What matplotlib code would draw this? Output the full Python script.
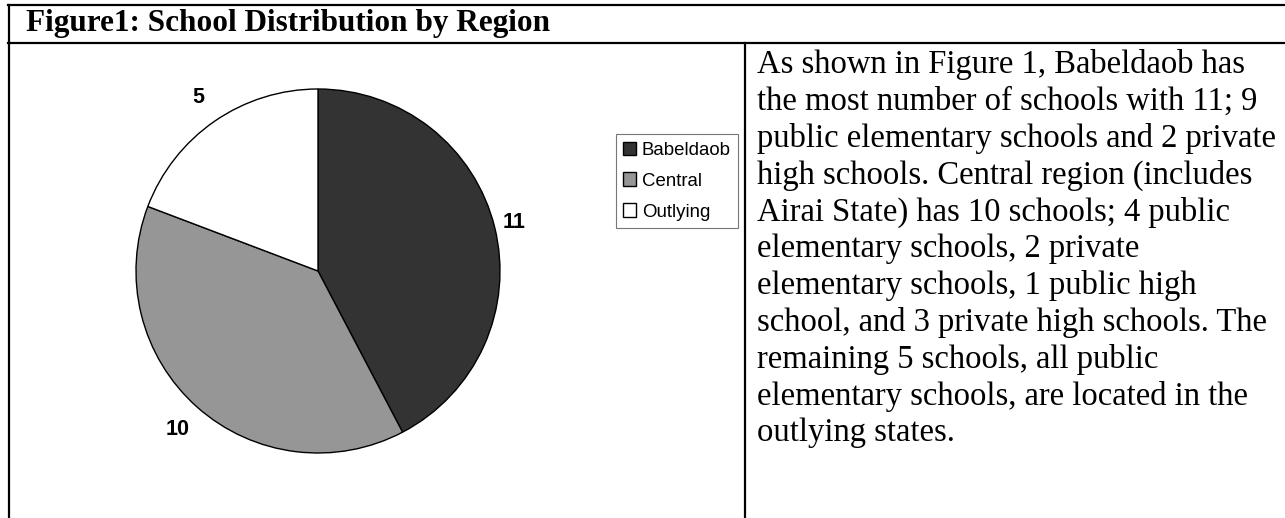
import matplotlib
matplotlib.use('Agg')
import matplotlib.pyplot as plt
from matplotlib.lines import Line2D
import numpy as np

# 数据
regions = ['Babeldaob', 'Central', 'Outlying']
schools = [11, 10, 5]
colors = ['#333333', '#969696', '#ffffff']

title = 'Figure1: School Distribution by Region'
paragraph = [
    'As shown in Figure 1, Babeldaob has',
    'the most number of schools with 11; 9',
    'public elementary schools and 2 private',
    'high schools. Central region (includes',
    'Airai State) has 10 schools; 4 public',
    'elementary schools, 2 private',
    'elementary schools, 1 public high',
    'school, and 3 private high schools. The',
    'remaining 5 schools, all public',
    'elementary schools, are located in the',
    'outlying states.',
]

W, H = 1285, 518
fig = plt.figure(figsize=(W / 100, H / 100), dpi=100)

# 饼图区域（像素 -> 图坐标）
cx, cy, r = 318, 271, 182
ax = fig.add_axes([(cx - r) / W, (H - cy - r) / H, 2 * r / W, 2 * r / H])
wedges, texts = ax.pie(schools, colors=colors, startangle=90, counterclock=False,
                       labels=[str(v) for v in schools], labeldistance=1.14,
                       wedgeprops=dict(edgecolor='black', linewidth=1.0),
                       textprops=dict(fontfamily='Liberation Sans', fontweight='bold', fontsize=15.5))
# 标签位置（Excel 风格：扇区中线外侧）
dist = [1.11, 1.165, 1.16]
for w, t, d in zip(wedges, texts, dist):
    ang = np.deg2rad((w.theta1 + w.theta2) / 2)
    t.set_position((d * np.cos(ang), d * np.sin(ang)))
    t.set_ha('center')
    t.set_va('center')
ax.set_xlim(-1, 1)
ax.set_ylim(-1, 1)
ax.set_aspect('equal')

leg = ax.legend(wedges, regions, loc='center', bbox_to_anchor=(677 / W, 1 - 181 / H),
                bbox_transform=fig.transFigure, frameon=True, fancybox=False,
                handlelength=0.7, handleheight=0.7, handletextpad=0.3,
                labelspacing=0.75, borderpad=0.4, borderaxespad=0,
                prop=dict(family='Liberation Sans', size=13.4))
leg.get_frame().set_edgecolor('#555555')
leg.get_frame().set_linewidth(0.8)

# 表格边框
def hline(y, x0, x1):
    fig.add_artist(Line2D([x0 / W, x1 / W], [1 - y / H, 1 - y / H], color='black', lw=1.6))

def vline(x, y0, y1):
    fig.add_artist(Line2D([x / W, x / W], [1 - y0 / H, 1 - y1 / H], color='black', lw=1.6))

hline(5, 8, W)
hline(43, 8, W)
vline(8.5, 5, H)
vline(744.5, 43, H)

# 标题和说明文字
fig.text(26 / W, 1 - 24 / H, title, fontfamily='Liberation Serif', fontweight='bold',
         fontsize=22.5, ha='left', va='center')
for i, line in enumerate(paragraph):
    fig.text(757 / W, 1 - (65 + i * 36.8) / H, line, fontfamily='Liberation Serif',
             fontsize=23.5, ha='left', va='center')

fig.savefig('out.png', dpi=100)
